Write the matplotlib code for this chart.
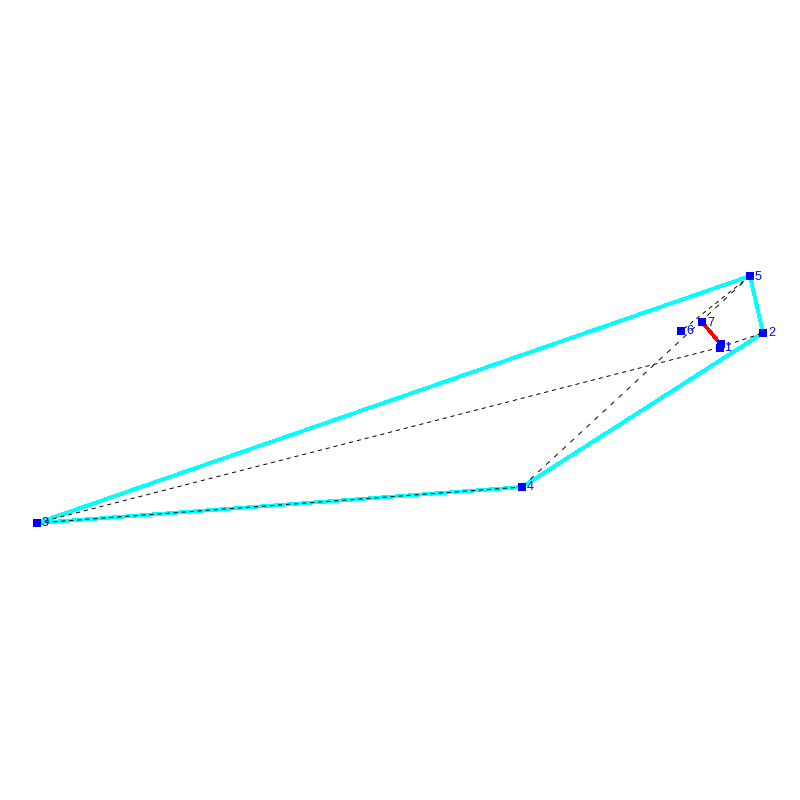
import matplotlib
matplotlib.use("Agg")
import matplotlib.pyplot as plt

plt.rcParams["lines.scale_dashes"] = False

# node positions
node_labels = ["1", "2", "3", "4", "5", "6", "7"]
node_x = [719.5, 763, 37, 522, 750, 681, 702]
node_y = [347.5, 333, 523, 487, 276, 331, 322]

# second square sitting right on top of node 1, it has no label
extra_x = 720.5
extra_y = 344

# hull, in node numbers
hull = [5, 2, 4, 3, 5]
# black dashed edges
short_edges = [(3, 1), (1, 2), (3, 4), (5, 6)]
long_edges = [(4, 5)]

fig = plt.figure(figsize=(8, 8), dpi=100)
ax = fig.add_axes([0, 0, 1, 1])
ax.set_xlim(0, 800)
ax.set_ylim(800, 0)
ax.axis("off")

hull_x = [node_x[n - 1] for n in hull]
hull_y = [node_y[n - 1] for n in hull]
ax.plot(hull_x, hull_y, color="cyan", lw=2.0, antialiased=False, zorder=1)

for a, b in short_edges:
    ax.plot([node_x[a - 1], node_x[b - 1]], [node_y[a - 1], node_y[b - 1]],
            color="black", lw=0.7, dashes=(3.0, 2.8), zorder=2)
for a, b in long_edges:
    ax.plot([node_x[a - 1], node_x[b - 1]], [node_y[a - 1], node_y[b - 1]],
            color="black", lw=0.7, dashes=(3.6, 4.3), zorder=2)

# red segment from 7 to the extra square
ax.plot([node_x[6], extra_x], [node_y[6], extra_y], color="red", lw=1.8, antialiased=False, zorder=3)

ax.plot(node_x, node_y, "s", color="blue", ms=5.5, mew=0, antialiased=False, zorder=4)
ax.plot([extra_x], [extra_y], "s", color="blue", ms=5.5, mew=0, antialiased=False, zorder=4)

for i in range(len(node_labels)):
    ax.text(node_x[i] + 5, node_y[i] + 0.5, node_labels[i], color="blue", fontsize=9,
            family="Liberation Sans", ha="left", va="center", zorder=5)

fig.savefig("out.png", dpi=100)
